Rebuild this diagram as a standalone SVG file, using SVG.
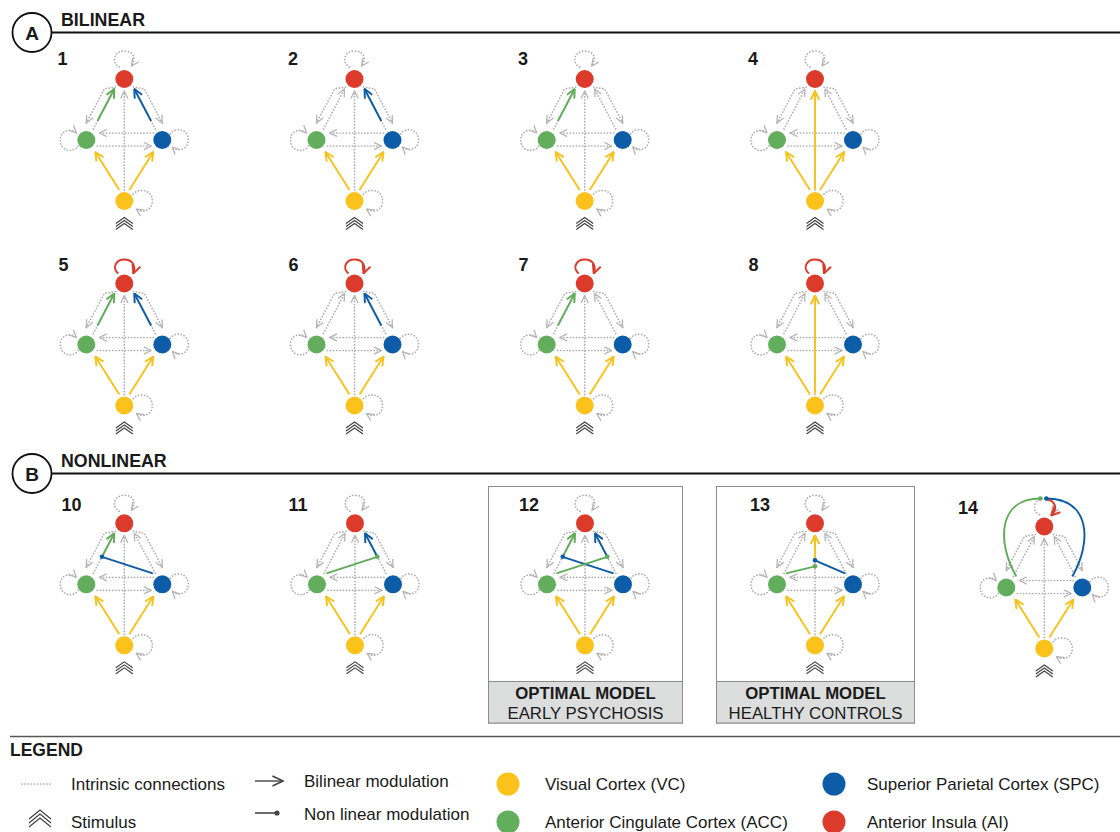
<svg xmlns="http://www.w3.org/2000/svg" xmlns:xlink="http://www.w3.org/1999/xlink" width="1120" height="832" viewBox="0 0 1120 832">
<style>
text{font-family:"Liberation Sans",Arial,sans-serif;fill:#1a1a1a}
.num{font-size:18px;font-weight:bold}
.hdr{font-size:17.8px;font-weight:bold}
.lg{font-size:17px}
.bx{font-size:16.8px}
.dt{fill:none;stroke:#acacac;stroke-width:1.7;stroke-dasharray:0.1 3;stroke-linecap:round}
.stim{fill:none;stroke:#3f3f3f;stroke-width:1.1}
.cy{fill:none;stroke:#F6C21A;stroke-width:1.9}
.cg{fill:none;stroke:#5FAD58;stroke-width:1.9}
.cb{fill:none;stroke:#0B5BA6;stroke-width:1.9}
.cr{fill:none;stroke:#DB3A2A;stroke-width:1.9}
.nAI{fill:#DC3A2B}.nACC{fill:#62AE5D}.nSPC{fill:#0C5CA8}.nVC{fill:#FBC21B}
.dotg{fill:#5FAD58}.dotb{fill:#0B5BA6}
</style>
<defs>
<marker id="mg" viewBox="0 0 10 10" refX="9.3" refY="5" markerWidth="8.5" markerHeight="8.5" markerUnits="userSpaceOnUse" orient="auto"><path d="M0.5,0.8 L9.3,5 L0.5,9.2" fill="none" stroke="#b4b4b4" stroke-width="1.5" stroke-dasharray="none"/></marker>
<marker id="my" viewBox="0 0 10 10" refX="9.3" refY="5" markerWidth="10" markerHeight="10" markerUnits="userSpaceOnUse" orient="auto"><path d="M0.5,0.8 L9.3,5 L0.5,9.2" fill="none" stroke="#F6C21A" stroke-width="1.9"/></marker>
<marker id="mgr" viewBox="0 0 10 10" refX="9.3" refY="5" markerWidth="10" markerHeight="10" markerUnits="userSpaceOnUse" orient="auto"><path d="M0.5,0.8 L9.3,5 L0.5,9.2" fill="none" stroke="#5FAD58" stroke-width="1.9"/></marker>
<marker id="mb" viewBox="0 0 10 10" refX="9.3" refY="5" markerWidth="10" markerHeight="10" markerUnits="userSpaceOnUse" orient="auto"><path d="M0.5,0.8 L9.3,5 L0.5,9.2" fill="none" stroke="#0B5BA6" stroke-width="1.9"/></marker>
<marker id="mr" viewBox="0 0 10 10" refX="9.3" refY="5" markerWidth="10" markerHeight="10" markerUnits="userSpaceOnUse" orient="auto"><path d="M0.5,0.8 L9.3,5 L0.5,9.2" fill="none" stroke="#DB3A2A" stroke-width="1.9"/></marker>
<marker id="mk" viewBox="0 0 10 10" refX="9.3" refY="5" markerWidth="12" markerHeight="12" markerUnits="userSpaceOnUse" orient="auto"><path d="M0.5,0.8 L9.3,5 L0.5,9.2" fill="none" stroke="#444" stroke-width="1.3"/></marker>
<g id="intr">
<path class="dt" d="M29,54 L-25,54" marker-end="url(#mg)"/>
<path class="dt" d="M-27,67 L27,67" marker-end="url(#mg)"/>
<path class="dt" d="M0,111 L0,12" marker-end="url(#mg)"/>
<path class="dt" d="M-9,8 L-20,10 L-38,44" marker-end="url(#mg)"/>
<path class="dt" d="M9,8 L20,10 L38,44" marker-end="url(#mg)"/>
<path class="dt" d="M-31,50 L-10,10" marker-end="url(#mg)"/>
<path class="dt" d="M31,50 L10,10" marker-end="url(#mg)"/>
<path class="dt" d="M-46,67 C-50,74 -64,73 -64,61 C-64,51 -53,49 -48,54" marker-end="url(#mg)"/>
<path class="dt" d="M46,55 C50,48 64,49 64,61 C64,71 53,73 48,68" marker-end="url(#mg)"/>
<path class="dt" d="M9,115 C14,109 28,110 28,122 C28,132 18,134 12,130" marker-end="url(#mg)"/>
<path class="stim" d="M-8.5,144.5 L0,138.5 L8.5,144.5 M-8.5,147.5 L0,141.5 L8.5,147.5 M-8.5,150.5 L0,144.5 L8.5,150.5"/>
</g>
<g id="ailoop"><path class="dt" d="M-5,-12 C-13,-16 -11,-28 0,-28 C10,-28 12,-20 7,-13" marker-end="url(#mg)"/></g>
<g id="vcin">
<path class="cy" d="M-5,111 L-29,73" marker-end="url(#my)"/>
<path class="cy" d="M5,111 L29,73" marker-end="url(#my)"/>
</g>
<g id="nodes">
<circle class="nAI" cx="0" cy="0" r="9"/>
<circle class="nACC" cx="-38" cy="61" r="9"/>
<circle class="nSPC" cx="38" cy="61" r="9"/>
<circle class="nVC" cx="0" cy="122" r="9"/>
</g>
</defs>

<!-- section headers -->
<g id="header-A">
<circle cx="32" cy="32.5" r="19.5" fill="none" stroke="#111" stroke-width="1.8"/>
<text x="32" y="39.5" text-anchor="middle" font-size="19" font-weight="bold">A</text>
<path d="M51.5,32.5 H1120" stroke="#111" stroke-width="1.8"/>
<text class="hdr" x="61" y="26">BILINEAR</text>
</g>
<g id="header-B">
<circle cx="32" cy="473.5" r="19.5" fill="none" stroke="#111" stroke-width="1.8"/>
<text x="32" y="480.5" text-anchor="middle" font-size="19" font-weight="bold">B</text>
<path d="M51.5,473.5 H1120" stroke="#111" stroke-width="1.8"/>
<text class="hdr" x="61" y="466.5">NONLINEAR</text>
</g>

<!-- optimal model boxes -->
<g id="box-12">
<rect x="488.5" y="486.5" width="194" height="236.5" fill="#fff" stroke="#8c8c8c"/>
<rect x="488.5" y="681.5" width="194" height="41.5" fill="#dcdddd" stroke="#8c8c8c"/>
<text class="bx" x="585.5" y="699" text-anchor="middle" font-weight="bold">OPTIMAL MODEL</text>
<text class="bx" x="585.5" y="719" text-anchor="middle">EARLY PSYCHOSIS</text>
</g>
<g id="box-13">
<rect x="716.5" y="486.5" width="198" height="236.5" fill="#fff" stroke="#8c8c8c"/>
<rect x="716.5" y="681.5" width="198" height="41.5" fill="#dcdddd" stroke="#8c8c8c"/>
<text class="bx" x="815.5" y="699" text-anchor="middle" font-weight="bold">OPTIMAL MODEL</text>
<text class="bx" x="815.5" y="719" text-anchor="middle">HEALTHY CONTROLS</text>
</g>

<!-- numbers -->
<g id="labels">
<text class="num" x="57.5" y="65">1</text>
<text class="num" x="288" y="65">2</text>
<text class="num" x="518" y="65">3</text>
<text class="num" x="748" y="65">4</text>
<text class="num" x="58.5" y="270.5">5</text>
<text class="num" x="288.5" y="270.5">6</text>
<text class="num" x="518.5" y="270.5">7</text>
<text class="num" x="748.5" y="270.5">8</text>
<text class="num" x="61.5" y="511">10</text>
<text class="num" x="288.5" y="511">11</text>
<text class="num" x="519" y="511">12</text>
<text class="num" x="750" y="511">13</text>
<text class="num" x="958" y="513.5">14</text>
</g>

<!-- models -->
<g id="model-1" transform="translate(124.3,79)">
<use href="#intr"/><use href="#ailoop"/>
<g class="connectors"><use href="#vcin"/>
<path class="cg" d="M-26.8,42 L-10,10" marker-end="url(#mgr)"/>
<path class="cb" d="M26.8,42 L10,10" marker-end="url(#mb)"/></g>
<g id="m1-nodes"><use href="#nodes"/></g>
</g>
<g id="model-2" transform="translate(354.5,79)">
<use href="#intr"/><use href="#ailoop"/>
<g class="connectors"><use href="#vcin"/>
<path class="cb" d="M26.8,42 L10,10" marker-end="url(#mb)"/></g>
<g id="m2-nodes"><use href="#nodes"/></g>
</g>
<g id="model-3" transform="translate(584.7,79)">
<use href="#intr"/><use href="#ailoop"/>
<g class="connectors"><use href="#vcin"/>
<path class="cg" d="M-26.8,42 L-10,10" marker-end="url(#mgr)"/></g>
<g id="m3-nodes"><use href="#nodes"/></g>
</g>
<g id="model-4" transform="translate(815,79)">
<use href="#intr"/><use href="#ailoop"/>
<g class="connectors"><use href="#vcin"/>
<path class="cy" d="M0,110 L0,12" marker-end="url(#my)"/></g>
<g id="m4-nodes"><use href="#nodes"/></g>
</g>

<g id="model-5" transform="translate(124.3,283.5)">
<use href="#intr"/>
<g class="connectors"><use href="#vcin"/>
<path class="cg" d="M-26.8,42 L-10,10" marker-end="url(#mgr)"/>
<path class="cb" d="M26.8,42 L10,10" marker-end="url(#mb)"/>
<path class="cr" d="M-6,-10 C-13,-16 -8,-24 0,-24 C8,-24 12,-18 9,-10" marker-end="url(#mr)"/></g>
<g id="m5-nodes"><use href="#nodes"/></g>
</g>
<g id="model-6" transform="translate(354.5,283.5)">
<use href="#intr"/>
<g class="connectors"><use href="#vcin"/>
<path class="cb" d="M26.8,42 L10,10" marker-end="url(#mb)"/>
<path class="cr" d="M-6,-10 C-13,-16 -8,-24 0,-24 C8,-24 12,-18 9,-10" marker-end="url(#mr)"/></g>
<g id="m6-nodes"><use href="#nodes"/></g>
</g>
<g id="model-7" transform="translate(584.7,283.5)">
<use href="#intr"/>
<g class="connectors"><use href="#vcin"/>
<path class="cg" d="M-26.8,42 L-10,10" marker-end="url(#mgr)"/>
<path class="cr" d="M-6,-10 C-13,-16 -8,-24 0,-24 C8,-24 12,-18 9,-10" marker-end="url(#mr)"/></g>
<g id="m7-nodes"><use href="#nodes"/></g>
</g>
<g id="model-8" transform="translate(815,283.5)">
<use href="#intr"/>
<g class="connectors"><use href="#vcin"/>
<path class="cy" d="M0,110 L0,12" marker-end="url(#my)"/>
<path class="cr" d="M-6,-10 C-13,-16 -8,-24 0,-24 C8,-24 12,-18 9,-10" marker-end="url(#mr)"/></g>
<g id="m8-nodes"><use href="#nodes"/></g>
</g>

<g id="model-10" transform="translate(124.3,523.3)">
<use href="#intr"/><use href="#ailoop"/>
<g class="connectors"><use href="#vcin"/>
<path class="cg" d="M-22.3,33.5 L-10,10" marker-end="url(#mgr)"/>
<path class="cb" d="M28.5,50 L-22.3,33.5"/>
<circle class="dotb" cx="-22.3" cy="33.5" r="2.3"/></g>
<g id="m10-nodes"><use href="#nodes"/></g>
</g>
<g id="model-11" transform="translate(355,523.3)">
<use href="#intr"/><use href="#ailoop"/>
<g class="connectors"><use href="#vcin"/>
<path class="cb" d="M22.3,33.5 L10,10" marker-end="url(#mb)"/>
<path class="cg" d="M-28.5,50 L22.3,33.5"/>
<circle class="dotg" cx="22.3" cy="33.5" r="2.3"/></g>
<g id="m11-nodes"><use href="#nodes"/></g>
</g>
<g id="model-12" transform="translate(585,523.3)">
<use href="#intr"/><use href="#ailoop"/>
<g class="connectors"><use href="#vcin"/>
<path class="cg" d="M-22.3,33.5 L-10,10" marker-end="url(#mgr)"/>
<path class="cb" d="M22.3,33.5 L10,10" marker-end="url(#mb)"/>
<path class="cb" d="M28.5,50 L-22.3,33.5"/>
<path class="cg" d="M-28.5,50 L22.3,33.5"/>
<circle class="dotb" cx="-22.3" cy="33.5" r="2.3"/>
<circle class="dotg" cx="22.3" cy="33.5" r="2.3"/></g>
<g id="m12-nodes"><use href="#nodes"/></g>
</g>
<g id="model-13" transform="translate(815,523.3)">
<use href="#intr"/><use href="#ailoop"/>
<g class="connectors"><use href="#vcin"/>
<path class="cy" d="M0,37 L0,12" marker-end="url(#my)"/>
<path class="cb" d="M30,50 L0,37"/>
<path class="cg" d="M-29,50 L0,43"/>
<circle class="dotb" cx="0" cy="37" r="2.3"/>
<circle class="dotg" cx="0" cy="43" r="2.3"/></g>
<g id="m13-nodes"><use href="#nodes"/></g>
</g>
<g id="model-14" transform="translate(1044.3,526.5)">
<use href="#intr"/><use href="#ailoop"/>
<g class="connectors"><use href="#vcin"/>
<path class="cg" d="M-28,50 C-48,15 -46,-28 -4,-28"/>
<path class="cb" d="M28,50 C48,15 46,-28 2,-28"/>
<path class="cr" d="M2,-27 C11,-26 14,-18 7,-11" marker-end="url(#mr)"/>
<circle class="dotg" cx="-4" cy="-28" r="2.3"/>
<circle class="dotb" cx="2" cy="-28" r="2.3"/></g>
<g id="m14-nodes"><use href="#nodes"/></g>
</g>

<!-- legend -->
<g id="legend">
<path d="M10,736.5 H1120" stroke="#555" stroke-width="1.5"/>
<text x="10" y="756" font-size="17.5" font-weight="bold">LEGEND</text>
<path class="dt" d="M22,784 H50"/>
<text class="lg" x="71" y="789.5">Intrinsic connections</text>
<path class="stim" d="M29,819 L40,810 L51,819 M29,823 L40,814 L51,823 M29,827 L40,818 L51,827" stroke-width="1.2"/>
<text class="lg" x="71" y="827.5">Stimulus</text>
<path d="M255,781 H283" stroke="#444" stroke-width="1.4" marker-end="url(#mk)"/>
<text class="lg" x="304" y="786.5">Bilinear modulation</text>
<path d="M255,813 H276" stroke="#444" stroke-width="1.6"/>
<circle cx="277" cy="813" r="2.6" fill="#444"/>
<text class="lg" x="304" y="819.5">Non linear modulation</text>
<circle class="nVC" cx="508" cy="784" r="11.5"/>
<text class="lg" x="545" y="789.5">Visual Cortex (VC)</text>
<circle class="nACC" cx="508" cy="822" r="11.5"/>
<text class="lg" x="545" y="827.5">Anterior Cingulate Cortex (ACC)</text>
<circle class="nSPC" cx="834" cy="784" r="11.5"/>
<text class="lg" x="867" y="789.5">Superior Parietal Cortex (SPC)</text>
<circle class="nAI" cx="834" cy="822" r="11.5"/>
<text class="lg" x="867" y="827.5">Anterior Insula (AI)</text>
</g>
</svg>
